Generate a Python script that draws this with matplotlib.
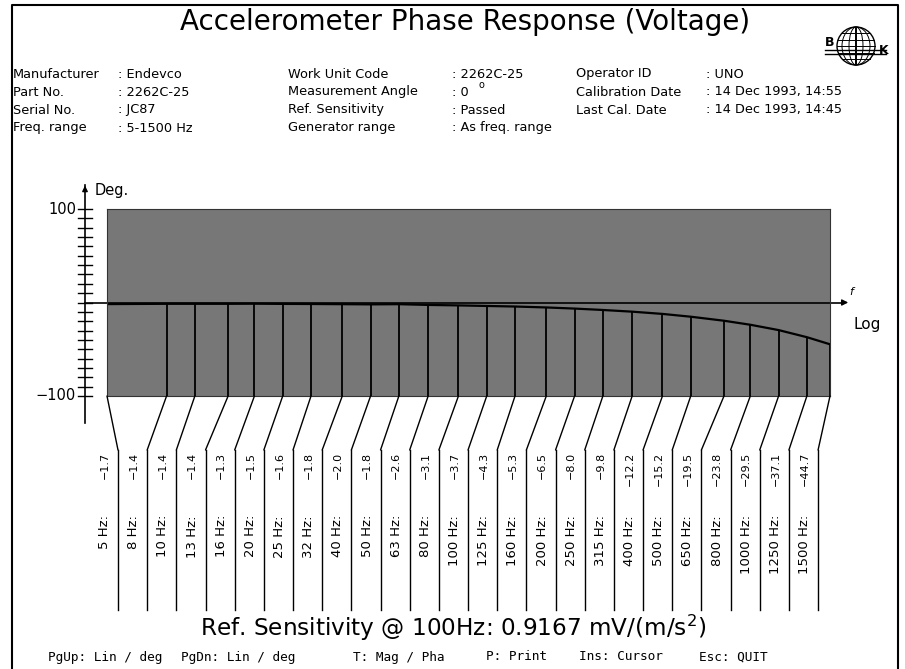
import numpy as np
import matplotlib
matplotlib.use("Agg")
import matplotlib.pyplot as plt
from matplotlib.patches import Circle, ConnectionPatch, Ellipse
from matplotlib.transforms import blended_transform_factory

# ======================
# data
# ======================
freqs = [5, 8, 10, 13, 16, 20, 25, 32, 40, 50, 63, 80, 100, 125, 160,
         200, 250, 315, 400, 500, 650, 800, 1000, 1250, 1500]
phase = [-1.7, -1.4, -1.4, -1.4, -1.3, -1.5, -1.6, -1.8, -2.0, -1.8, -2.6, -3.1,
         -3.7, -4.3, -5.3, -6.5, -8.0, -9.8, -12.2, -15.2, -19.5, -23.8,
         -29.5, -37.1, -44.7]

head_labels_1 = ["Manufacturer", "Part No.", "Serial No.", "Freq. range"]
head_values_1 = [": Endevco", ": 2262C-25", ": JC87", ": 5-1500 Hz"]
head_labels_2 = ["Work Unit Code", "Measurement Angle", "Ref. Sensitivity", "Generator range"]
head_values_2 = [": 2262C-25", ": 0", ": Passed", ": As freq. range"]
head_labels_3 = ["Operator ID", "Calibration Date", "Last Cal. Date"]
head_values_3 = [": UNO", ": 14 Dec 1993, 14:55", ": 14 Dec 1993, 14:45"]

keys = [("PgUp: Lin / deg", 48), ("PgDn: Lin / deg", 181), ("T: Mag / Pha", 353),
        ("P: Print", 486), ("Ins: Cursor", 579), ("Esc: QUIT", 699)]

plt.rcParams['font.family'] = ['DejaVu Sans']

W, H = 905, 669
fig = plt.figure(figsize=(W / 100, H / 100), dpi=100)
fig.patch.set_facecolor("white")

# overlay axes in pixel coordinates
ov = fig.add_axes([0, 0, 1, 1])
ov.set_xlim(0, W)
ov.set_ylim(H, 0)
ov.axis("off")

# screen frame
ov.plot([12, 12, 898, 898], [H, 5, 5, H], color="black", lw=1.5)

# title + logo
ov.text(465, 22, "Accelerometer Phase Response (Voltage)", ha="center", va="center",
        fontsize=20, color="black")
gx, gy, gr = 856, 46, 19
ov.add_patch(Circle((gx, gy), gr, fill=False, color="black", lw=1))
for dy in [-13, -6.5, 0, 6.5, 13]:
    half = np.sqrt(gr ** 2 - dy ** 2)
    ov.plot([gx - half, gx + half], [gy + dy, gy + dy], color="black", lw=0.7)
for wdt in [1, 14, 28]:
    ov.add_patch(Ellipse((gx, gy), wdt, 2 * gr, fill=False, color="black", lw=0.7))
ov.plot([825, 886], [50, 50], color="black", lw=1)
ov.plot([825, 886], [54, 54], color="black", lw=1)
ov.text(830, 43, "B", ha="center", va="center", fontsize=9, fontweight="bold")
ov.text(884, 51, "K", ha="center", va="center", fontsize=9, fontweight="bold")

# header block
rows_y = [74, 92, 110, 128]
fs_head = 9.3
for i, (l, v) in enumerate(zip(head_labels_1, head_values_1)):
    ov.text(13, rows_y[i], l, va="center", fontsize=fs_head)
    ov.text(118, rows_y[i], v, va="center", fontsize=fs_head)
for i, (l, v) in enumerate(zip(head_labels_2, head_values_2)):
    ov.text(288, rows_y[i], l, va="center", fontsize=fs_head)
    ov.text(452, rows_y[i], v, va="center", fontsize=fs_head)
for i, (l, v) in enumerate(zip(head_labels_3, head_values_3)):
    ov.text(576, rows_y[i], l, va="center", fontsize=fs_head)
    ov.text(706, rows_y[i], v, va="center", fontsize=fs_head)
ov.text(478, 85, "o", va="center", fontsize=7)

# ======================
# plot area
# ======================
px_l, px_r, px_t, px_b = 107, 830, 209, 396
ax = fig.add_axes([px_l / W, 1 - px_b / H, (px_r - px_l) / W, (px_b - px_t) / H])
ax.set_xscale("log")
ax.set_xlim(5, 1500)
ax.set_ylim(-100, 100)
ax.set_facecolor("#777777")
for s in ax.spines.values():
    s.set_color("#333333")
    s.set_linewidth(0.8)
ax.set_xticks([])
ax.set_yticks([])
ax.minorticks_off()

ax.vlines(freqs, -100, phase, color="black", lw=1.3)
ax.plot(freqs, phase, color="black", lw=1.6)

# y axis drawn in pixel x / data y
bt = blended_transform_factory(ov.transData, ax.transData)
ax.plot([85, 85], [126, -129], color="black", lw=1.2, transform=bt, clip_on=False)
ax.annotate("", xy=(85, 128), xytext=(85, 118), xycoords=bt, textcoords=bt,
            arrowprops=dict(arrowstyle="-|>", color="black", lw=1, mutation_scale=8),
            annotation_clip=False)
for t in np.arange(-100, 101, 10):
    ax.plot([78, 92], [t, t], color="black", lw=1, transform=bt, clip_on=False)
ov.text(76, px_t, "100", ha="right", va="center", fontsize=10.5)
ov.text(76, px_b, "\u2212100", ha="right", va="center", fontsize=10.5)
ov.text(95, 190, "Deg.", ha="left", va="center", fontsize=10.5)

# zero line with arrow
ax.plot([85, 842], [0, 0], color="black", lw=1.2, transform=bt, clip_on=False)
ax.annotate("", xy=(851, 0), xytext=(840, 0), xycoords=bt, textcoords=bt,
            arrowprops=dict(arrowstyle="-|>", color="black", lw=1, mutation_scale=9),
            annotation_clip=False)
ov.text(851, 292, "f", fontsize=8, style="italic", ha="center", va="center")
ov.text(853, 325, "Log", fontsize=11, ha="left", va="center")

# ======================
# leader lines and value columns
# ======================
col_x = [118 + i * 29.17 for i in range(len(freqs))]
for i, (f, p) in enumerate(zip(freqs, phase)):
    con = ConnectionPatch(xyA=(f, -100), coordsA=ax.transData,
                          xyB=(col_x[i], 450), coordsB=ov.transData,
                          color="black", lw=1)
    fig.add_artist(con)
    ov.plot([col_x[i], col_x[i]], [450, 610], color="black", lw=1)
    tx = col_x[i] - 13.5
    ov.text(tx, 452, f"{p:.1f}".replace("-", "\u2212"), rotation=90,
            ha="center", va="top", fontsize=8)
    ov.text(tx, 515, f"{f} Hz:", rotation=90, ha="center", va="top", fontsize=9.5)

# bottom text
ov.text(453, 628, "Ref. Sensitivity @ 100Hz: 0.9167 mV/(m/s$^2$)", ha="center",
        va="center", fontsize=16.7, color="black")
for txt, x in keys:
    ov.text(x, 657, txt, ha="left", va="center", fontsize=9.2,
            family="DejaVu Sans Mono")

fig.savefig("out.png", dpi=100)
